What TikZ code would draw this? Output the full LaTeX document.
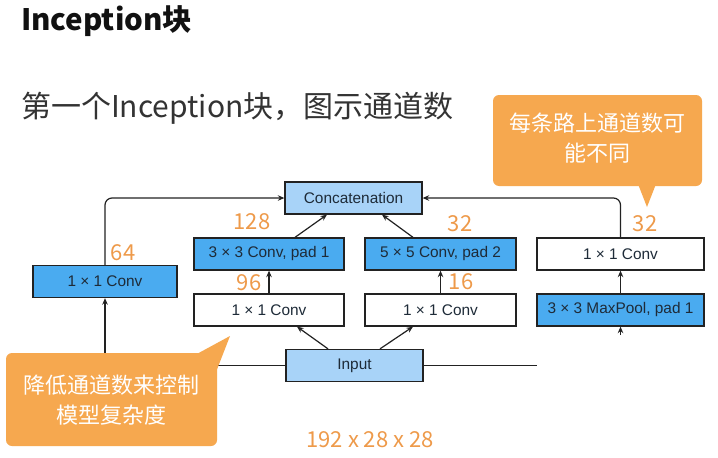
\documentclass[tikz,border=0pt]{standalone}
\usepackage{fontspec}
\setmainfont{Liberation Sans}
\newfontfamily\cjk{Noto Sans CJK SC}
\usetikzlibrary{arrows.meta}
\definecolor{boxblue}{HTML}{4AABF0}
\definecolor{lightblue}{HTML}{A8D3F8}
\definecolor{callout}{HTML}{F6A84F}
\definecolor{numorange}{HTML}{EE9A4A}
\definecolor{ink}{HTML}{222222}
\definecolor{boxtext}{HTML}{1E2B38}
\definecolor{headink}{HTML}{111111}
\definecolor{subink}{HTML}{333333}

\begin{document}
\begin{tikzpicture}[x=1pt,y=-1pt,
  block/.style={draw=ink, line width=1.3pt, inner sep=0pt, minimum height=32pt,
    font=\fontsize{15.4}{18}\selectfont, text=boxtext},
  conv/.style={block, fill=boxblue},
  plain/.style={block, fill=white},
  merge/.style={block, fill=lightblue},
  link/.style={draw=ink, line width=1.2pt},
  flow/.style={link, -{Stealth[length=6.5pt,width=5.5pt]}},
  count/.style={text=numorange, font=\cjk\fontsize{22}{26}\selectfont, inner sep=0pt},
  bubble/.style={fill=callout, rounded corners=6pt},
  tail/.style={fill=callout},
  note/.style={text=white, font=\cjk\fontsize{22}{30}\selectfont, align=center, inner sep=0pt}
]
% canvas
\fill[white] (0,0) rectangle (718,458);
\useasboundingbox (0,0) rectangle (718,458);

% headings
\node[anchor=base west, inner sep=0pt, text=headink,
      font=\cjk\bfseries\fontsize{29.5}{34}\selectfont] (title) at (21,30) {Inception块};
\node[anchor=base west, inner sep=0pt, text=subink,
      font=\cjk\fontsize{30}{36}\selectfont] (subtitle) at (21,117) {第一个Inception块，图示通道数};

% blocks
\node[merge, minimum width=137pt] (concat) at (353.5,198) {Concatenation};
\node[conv,  minimum width=150pt] (c3) at (269,254) {3 × 3 Conv, pad 1};
\node[conv,  minimum width=151pt] (c5) at (440.5,254) {5 × 5 Conv, pad 2};
\node[plain, minimum width=167pt] (rc) at (620.5,254) {1 × 1 Conv};
\node[conv,  minimum width=144pt] (lc) at (105,281.5) {1 × 1 Conv};
\node[plain, minimum width=150pt] (m1) at (269,310) {1 × 1 Conv};
\node[plain, minimum width=151pt] (m2) at (440.5,310) {1 × 1 Conv};
\node[conv,  minimum width=167pt] (mp) at (620.5,310) {3 × 3 MaxPool, pad 1};
\node[merge, minimum width=137pt] (input) at (354.5,365.5) {Input};

% channel counts
\node[count] (n128) at (252,222) {128};
\node[count] (n64) at (123,253) {64};
\node[count] (n96) at (249,283) {96};
\node[count] (n16) at (461,282) {16};
\node[count] (n32a) at (460,224) {32};
\node[count] (n32b) at (645,224) {32};
\node[count] (shape) at (370,440) {192 x 28 x 28};

% connectors
\coordinate (inR) at (537,365.5);
\coordinate (poolIn) at (620.5,335);
\draw[flow] (input.west) -| (lc.south);
\draw[link] (input.east) -- (inR);
\draw[flow] (poolIn) -- (mp.south);
\draw[flow] ([xshift=-26.5pt]input.north) -- ([xshift=28pt]m1.south);
\draw[flow] ([xshift=25.5pt]input.north) -- ([xshift=-27.5pt]m2.south);
\draw[flow] (m1.north) -- (c3.south);
\draw[flow] (m2.north) -- (c5.south);
\draw[flow] (mp.north) -- (rc.south);
\draw[flow] ([xshift=26pt]c3.north) -- ([xshift=-26.5pt]concat.south);
\draw[flow] ([xshift=-27.5pt]c5.north) -- ([xshift=28.5pt]concat.south);
\draw[flow, rounded corners=7pt] (lc.north) |- (concat.west);
\draw[flow, rounded corners=7pt] (rc.north) |- (concat.east);

% callouts
\fill[bubble] (493,95) rectangle (702,186);
\fill[tail] (638,184) -- (647,207) -- (656,184) -- cycle;
\node[note] (tipA) at (597.5,138) {每条路上通道数可\\能不同};

\fill[bubble] (6,353) rectangle (217,446);
\fill[tail] (195,355) -- (230,336) -- (216,372) -- cycle;
\node[note] (tipB) at (111.5,400) {降低通道数来控制\\模型复杂度};
\end{tikzpicture}
\end{document}
